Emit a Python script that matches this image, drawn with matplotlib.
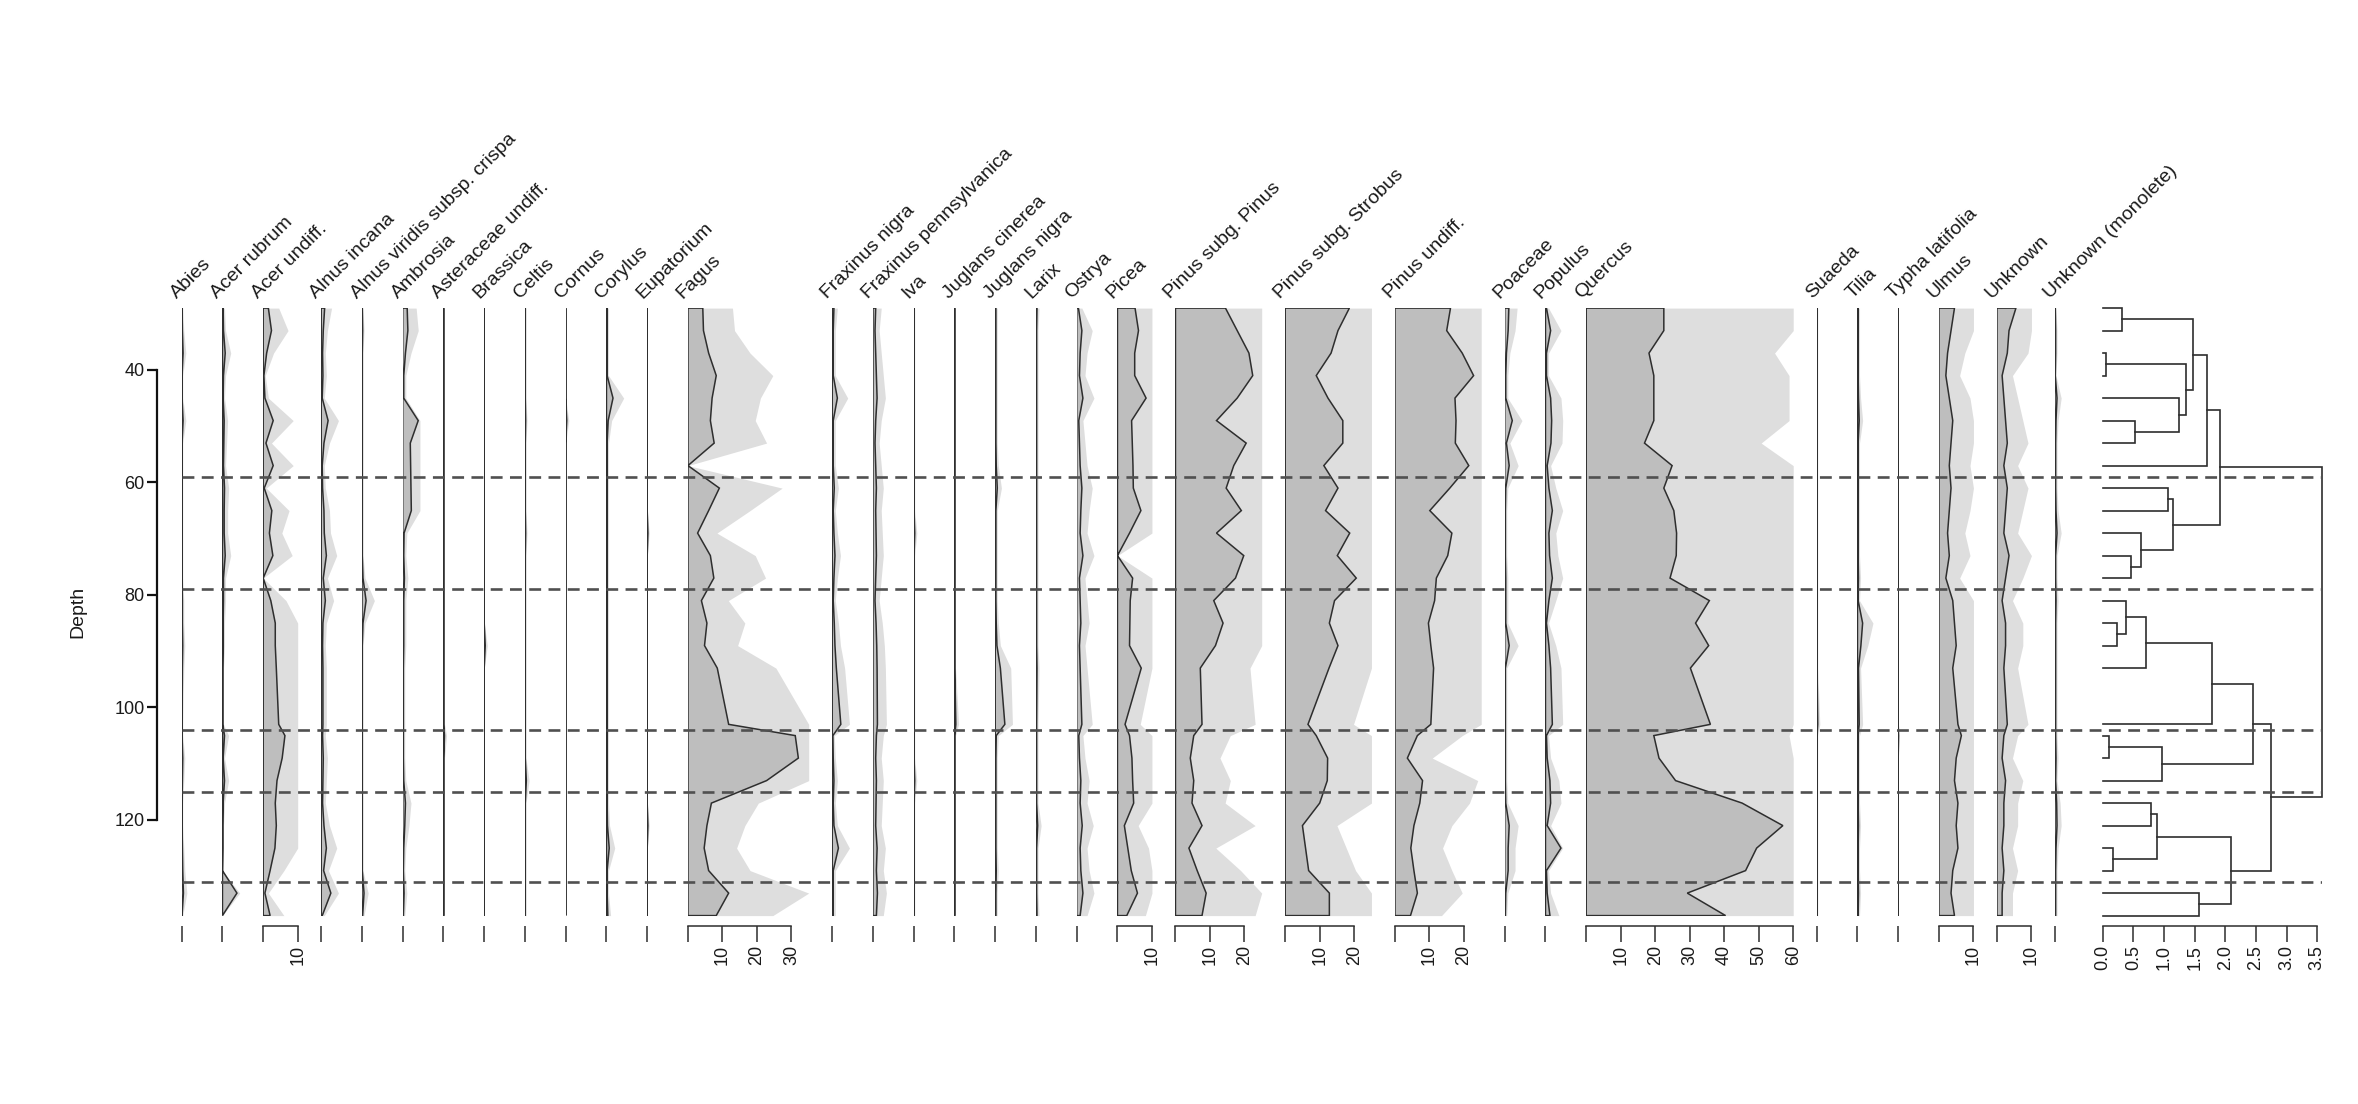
import numpy as np
import matplotlib
matplotlib.use("Agg")
import matplotlib.pyplot as plt
from matplotlib.transforms import offset_copy

plt.rcParams['font.family'] = ['Liberation Sans', 'DejaVu Sans']

# ---------------------------------------------------------------------------
# Data (percent of pollen sum) -- one list per taxon, sample depths below
# ---------------------------------------------------------------------------
depths = [29, 33, 37, 41, 45, 49, 53, 57, 61, 65, 69, 73, 77, 81, 85, 89, 93,
          103, 105, 109, 113, 117, 121, 125, 129, 133, 137]

abies = [0.1, 0.2, 0.4, 0.1, 0.1, 0.4, 0.1, 0.1, 0.1, 0.1, 0.1, 0.1, 0.1, 0.2,
         0.2, 0.3, 0.2, 0.1, 0.1, 0.3, 0.2, 0.1, 0.1, 0.2, 0.3, 0.5, 0.1]
acer_rubrum = [0.2, 0.3, 0.8, 0.3, 0.2, 0.5, 0.4, 0.3, 0.6, 0.5, 0.5, 0.8, 0.3, 0.3,
               0.2, 0.2, 0.1, 0.1, 0.6, 0.2, 0.6, 0.2, 0.1, 0.1, 0.0, 4.2, 0.0]
acer_undiff = [1.5, 2.4, 1.0, 0.2, 0.5, 2.9, 0.8, 2.9, 0.3, 2.5, 1.8, 2.8, 0.0, 2.2,
               3.5, 3.5, 3.8, 4.5, 6.3, 5.5, 4.0, 3.5, 3.8, 3.4, 2.0, 0.5, 2.0]
alnus_incana = [1.0, 0.6, 0.4, 0.5, 0.3, 2.0, 0.8, 0.3, 0.4, 0.8, 0.9, 1.5, 0.6, 1.2,
                0.5, 0.4, 0.5, 0.5, 0.4, 0.6, 0.5, 0.4, 0.8, 1.5, 0.7, 2.8, 0.3]
alnus_viridis = [0.1, 0.2, 0.1, 0.1, 0.1, 0.1, 0.1, 0.1, 0.1, 0.1, 0.1, 0.1, 0.3, 1.2,
                 0.3, 0.1, 0.1, 0.1, 0.1, 0.1, 0.1, 0.1, 0.1, 0.1, 0.1, 0.6, 0.2]
ambrosia = [1.3, 1.5, 0.8, 0.3, 0.3, 4.5, 2.2, 2.3, 2.4, 2.5, 0.4, 0.3, 0.5, 0.3,
            0.3, 0.3, 0.2, 0.2, 0.2, 0.2, 0.3, 0.8, 0.6, 0.3, 0.2, 0.4, 0.2]
asteraceae = [0.1, 0.1, 0.1, 0.1, 0.1, 0.1, 0.1, 0.1, 0.1, 0.1, 0.1, 0.1, 0.1, 0.1,
              0.1, 0.1, 0.1, 0.1, 0.3, 0.1, 0.1, 0.1, 0.1, 0.1, 0.1, 0.1, 0.1]
brassica = [0.0, 0.0, 0.0, 0.0, 0.0, 0.0, 0.0, 0.0, 0.0, 0.0, 0.0, 0.0, 0.0, 0.0,
            0.0, 0.3, 0.0, 0.0, 0.0, 0.0, 0.0, 0.0, 0.0, 0.0, 0.0, 0.0, 0.0]
celtis = [0.1, 0.1, 0.1, 0.1, 0.1, 0.2, 0.1, 0.1, 0.1, 0.1, 0.2, 0.1, 0.1, 0.1,
          0.1, 0.1, 0.1, 0.1, 0.1, 0.1, 0.4, 0.1, 0.1, 0.1, 0.1, 0.1, 0.1]
cornus = [0.0, 0.0, 0.0, 0.0, 0.0, 0.3, 0.0, 0.0, 0.0, 0.0, 0.0, 0.0, 0.0, 0.0,
          0.0, 0.0, 0.0, 0.0, 0.0, 0.0, 0.0, 0.0, 0.0, 0.0, 0.0, 0.0, 0.0]
corylus = [0.2, 0.2, 0.2, 0.2, 1.9, 0.5, 0.2, 0.2, 0.2, 0.2, 0.2, 0.2, 0.2, 0.2,
           0.2, 0.2, 0.2, 0.2, 0.2, 0.2, 0.2, 0.2, 0.3, 0.8, 0.2, 0.2, 0.4]
eupatorium = [0.0, 0.0, 0.0, 0.0, 0.0, 0.0, 0.0, 0.0, 0.0, 0.0, 0.2, 0.0, 0.0, 0.0,
              0.0, 0.0, 0.0, 0.0, 0.0, 0.0, 0.0, 0.0, 0.2, 0.0, 0.0, 0.0, 0.0]
fagus = [4.3, 4.5, 6.0, 8.2, 7.0, 6.5, 7.6, 0.0, 9.1, 6.0, 2.8, 6.5, 7.5, 3.9,
         5.5, 4.8, 8.5, 11.8, 31.1, 32.0, 22.8, 6.8, 5.5, 4.7, 6.0, 11.8, 8.2]
fraxinus_nigra = [0.5, 0.3, 0.3, 0.3, 1.5, 0.3, 0.3, 0.3, 0.6, 0.3, 0.5, 0.8, 0.5, 0.3,
                  0.6, 0.8, 1.2, 2.5, 0.2, 0.3, 0.5, 0.3, 0.5, 1.8, 0.3, 0.3, 0.3]
fraxinus_penn = [0.8, 0.6, 0.8, 1.0, 1.2, 0.8, 0.6, 0.8, 1.0, 0.8, 0.9, 1.0, 0.8, 0.6,
                 0.9, 1.1, 1.2, 1.3, 1.0, 0.8, 1.0, 0.9, 0.8, 1.2, 1.0, 1.3, 1.0]
iva = [0.1, 0.1, 0.1, 0.1, 0.1, 0.1, 0.1, 0.1, 0.1, 0.1, 0.3, 0.1, 0.1, 0.1,
       0.1, 0.1, 0.1, 0.1, 0.1, 0.1, 0.3, 0.1, 0.1, 0.1, 0.1, 0.1, 0.1]
juglans_cinerea = [0.1, 0.1, 0.1, 0.1, 0.1, 0.1, 0.1, 0.1, 0.1, 0.1, 0.1, 0.1, 0.1, 0.1,
                   0.1, 0.1, 0.1, 0.4, 0.1, 0.1, 0.1, 0.1, 0.1, 0.1, 0.1, 0.1, 0.1]
juglans_nigra = [0.2, 0.2, 0.2, 0.2, 0.2, 0.2, 0.2, 0.3, 0.6, 0.2, 0.2, 0.2, 0.2, 0.2,
                 0.3, 0.5, 1.5, 2.8, 0.3, 0.2, 0.2, 0.2, 0.2, 0.2, 0.3, 0.2, 0.2]
larix = [0.3, 0.2, 0.2, 0.2, 0.2, 0.2, 0.2, 0.2, 0.2, 0.2, 0.2, 0.2, 0.2, 0.2,
         0.2, 0.2, 0.3, 0.2, 0.2, 0.2, 0.2, 0.2, 0.5, 0.2, 0.2, 0.2, 0.3]
ostrya = [0.5, 1.5, 1.0, 0.8, 1.8, 0.6, 0.8, 1.0, 1.5, 1.2, 1.0, 1.8, 0.8, 1.0,
          1.2, 0.8, 1.0, 1.5, 0.6, 0.8, 1.2, 1.0, 1.6, 1.0, 1.2, 1.8, 1.0]
picea = [5.1, 6.1, 5.0, 5.0, 8.3, 4.1, 4.3, 4.5, 4.6, 6.8, 3.5, 0.0, 4.4, 3.7,
         3.6, 3.5, 6.9, 2.2, 3.5, 4.2, 4.4, 4.7, 2.0, 3.0, 4.0, 5.8, 2.7]
pinus_pinus = [14.5, 17.9, 21.3, 22.4, 17.9, 11.9, 20.5, 16.9, 14.7, 19.1, 11.9, 19.8,
               17.4, 11.1, 13.8, 11.6, 7.2, 7.7, 5.3, 4.3, 5.3, 4.8, 7.7, 3.9, 6.3, 8.9, 7.7]
pinus_strobus = [18.6, 15.3, 13.3, 9.0, 12.4, 16.7, 16.7, 11.2, 15.3, 11.7, 18.7, 15.1,
                 20.6, 14.3, 12.8, 15.3, 12.7, 6.6, 9.0, 12.3, 12.2, 10.0, 5.0, 5.9, 6.8, 12.8, 12.8]
pinus_undiff = [16.1, 15.0, 19.5, 22.8, 17.4, 17.7, 17.5, 21.4, 15.9, 10.1, 16.5, 15.3,
                12.0, 11.5, 9.7, 10.4, 11.2, 10.4, 6.5, 3.6, 8.0, 7.2, 5.5, 4.6, 5.5, 6.5, 4.5]
poaceae = [1.2, 1.0, 0.5, 0.3, 0.3, 2.2, 0.5, 1.3, 0.3, 0.2, 0.2, 0.2, 0.3, 0.3,
           0.3, 1.3, 0.2, 0.2, 0.2, 0.2, 0.2, 0.3, 1.3, 1.0, 1.0, 0.3, 0.2]
populus = [0.3, 1.5, 0.3, 0.3, 1.5, 1.8, 1.6, 0.5, 1.0, 2.0, 1.0, 1.2, 2.0, 1.0,
           0.3, 1.0, 1.5, 2.0, 0.3, 0.5, 1.3, 1.5, 0.5, 4.5, 0.3, 0.5, 1.3]
quercus = [22.5, 22.5, 18.2, 19.6, 19.6, 19.6, 16.9, 24.9, 22.5, 25.4, 26.2, 26.1,
           24.3, 35.7, 31.7, 35.5, 30.2, 36.0, 19.6, 21.1, 25.9, 45.2, 57.0, 49.4, 46.2, 29.3, 40.4]
suaeda = [0.1, 0.1, 0.1, 0.1, 0.1, 0.1, 0.1, 0.1, 0.1, 0.1, 0.1, 0.1, 0.1, 0.1,
          0.1, 0.1, 0.1, 0.3, 0.1, 0.1, 0.1, 0.1, 0.1, 0.1, 0.1, 0.1, 0.1]
tilia = [0.2, 0.2, 0.2, 0.2, 0.3, 0.5, 0.2, 0.2, 0.2, 0.2, 0.2, 0.2, 0.3, 0.2,
         1.5, 1.0, 0.3, 0.5, 0.2, 0.2, 0.2, 0.2, 0.3, 0.2, 0.2, 0.3, 0.2]
typha = [0.0, 0.0, 0.0, 0.0, 0.0, 0.0, 0.0, 0.0, 0.0, 0.0, 0.0, 0.0, 0.0, 0.0,
         0.0, 0.0, 0.0, 0.0, 0.1, 0.0, 0.0, 0.0, 0.0, 0.0, 0.0, 0.0, 0.0]
ulmus = [4.5, 3.5, 2.5, 2.0, 3.0, 4.0, 3.5, 3.0, 3.5, 3.0, 2.5, 3.0, 2.0, 4.0,
         4.5, 5.0, 4.0, 5.5, 6.5, 5.0, 4.5, 5.5, 5.0, 5.5, 4.0, 3.5, 4.5]
unknown = [5.5, 3.5, 3.0, 1.5, 2.0, 2.5, 3.0, 2.0, 3.0, 2.5, 2.0, 3.5, 2.5, 1.5,
           2.5, 2.5, 2.0, 3.0, 2.0, 1.5, 2.5, 2.0, 2.0, 1.5, 2.0, 1.5, 1.5]
unknown_monolete = [0.1, 0.2, 0.2, 0.1, 0.6, 0.3, 0.2, 0.2, 0.2, 0.3, 0.6, 0.2, 0.2, 0.3,
                    0.2, 0.2, 0.2, 0.2, 0.2, 0.3, 0.2, 0.5, 0.6, 0.3, 0.2, 0.2, 0.2]

taxon_names = ["Abies", "Acer rubrum", "Acer undiff.", "Alnus incana",
               "Alnus viridis subsp. crispa", "Ambrosia", "Asteraceae undiff.",
               "Brassica", "Celtis", "Cornus", "Corylus", "Eupatorium", "Fagus",
               "Fraxinus nigra", "Fraxinus pennsylvanica", "Iva", "Juglans cinerea",
               "Juglans nigra", "Larix", "Ostrya", "Picea", "Pinus subg. Pinus",
               "Pinus subg. Strobus", "Pinus undiff.", "Poaceae", "Populus",
               "Quercus", "Suaeda", "Tilia", "Typha latifolia", "Ulmus", "Unknown",
               "Unknown (monolete)"]
taxon_values = [abies, acer_rubrum, acer_undiff, alnus_incana, alnus_viridis,
                ambrosia, asteraceae, brassica, celtis, cornus, corylus, eupatorium,
                fagus, fraxinus_nigra, fraxinus_penn, iva, juglans_cinerea,
                juglans_nigra, larix, ostrya, picea, pinus_pinus, pinus_strobus,
                pinus_undiff, poaceae, populus, quercus, suaeda, tilia, typha,
                ulmus, unknown, unknown_monolete]

# CONISS-style clustering: merge (a, b) at height h; ids >= 27 are earlier merges
merge_a = [2, 18, 23, 14, 0, 13, 11, 5, 10, 32, 21, 37, 28, 8, 40, 4, 27, 31,
           25, 44, 36, 46, 38, 47, 50, 48]
merge_b = [3, 19, 24, 15, 1, 30, 12, 6, 33, 16, 22, 29, 20, 9, 35, 34, 42, 43,
           26, 7, 17, 41, 45, 39, 49, 51]
merge_h = [0.05, 0.11, 0.17, 0.24, 0.31, 0.375, 0.46, 0.53, 0.62, 0.71, 0.79,
           0.88, 0.96, 1.07, 1.14, 1.25, 1.36, 1.47, 1.57, 1.70, 1.79, 1.92,
           2.09, 2.45, 2.74, 3.57]

zone_bounds = [59, 79, 104, 115, 131]
depth_ticks = [40, 60, 80, 100, 120]
dendro_ticks = [0.0, 0.5, 1.0, 1.5, 2.0, 2.5, 3.0, 3.5]
EXAG = 3

# ---------------------------------------------------------------------------
# Layout (pixels on a 2358 x 1104 canvas)
# ---------------------------------------------------------------------------
W, H = 2358, 1104
DPI = 100
X0 = 181.7          # left edge of first panel
Y_AXIS_X = 157      # depth axis line
PX_PER_PC = 3.45    # pixels per percent
GAP = 23.5          # gap between panels
Y_TOP, Y_BOT = 308.1, 915.6
DENDRO_X0 = 2102.7
DENDRO_PX = 61.3    # pixels per unit of dispersion

DARK = "#bebebe"
LIGHT = "#dedede"
LINE = "#2e2e2e"
TXT = "#1a1a1a"

fig = plt.figure(figsize=(W / DPI, H / DPI), dpi=DPI, facecolor="white")

bot = 1 - Y_BOT / H
hgt = (Y_BOT - Y_TOP) / H
axis_off_pt = 10.5 * 72 / DPI


def style_bottom(ax, ticks, labels):
    for s in ("top", "right", "left"):
        ax.spines[s].set_visible(False)
    sp = ax.spines["bottom"]
    sp.set_position(("outward", axis_off_pt))
    sp.set_bounds(ticks[0], ticks[-1])
    sp.set_color(LINE)
    sp.set_linewidth(1.1)
    ax.set_xticks(ticks)
    ax.set_xticklabels(labels)
    ax.tick_params(axis="x", direction="out", length=11.5, width=1.1,
                   color=LINE, labelsize=13, labelrotation=90, pad=2,
                   labelcolor=TXT)
    ax.set_yticks([])
    ax.patch.set_alpha(0)


# depth axis (own small axes left of the first panel)
axy = fig.add_axes([(Y_AXIS_X - 2) / W, bot, 4 / W, hgt])
axy.set_ylim(depths[-1], depths[0])
axy.set_xlim(0, 1)
axy.set_xticks([])
for s in ("top", "right", "bottom"):
    axy.spines[s].set_visible(False)
axy.spines["left"].set_position(("axes", 0.5))
axy.spines["left"].set_bounds(depth_ticks[0], depth_ticks[-1])
axy.spines["left"].set_color("#111111")
axy.spines["left"].set_linewidth(1.6)
axy.set_yticks(depth_ticks)
axy.tick_params(axis="y", direction="out", length=7, width=1.6, color="#111111",
                labelsize=13, pad=2, labelcolor=TXT)
axy.set_ylabel("Depth", fontsize=14, color=TXT, labelpad=20)

x = X0
for name, vals in zip(taxon_names, taxon_values):
    v = np.asarray(vals, dtype=float)
    d = np.asarray(depths, dtype=float)
    colm = np.floor((v.max() + 5) / 5) * 5
    ax = fig.add_axes([x / W, bot, colm * PX_PER_PC / W, hgt])
    ax.set_xlim(0, colm)
    ax.set_ylim(d[-1], d[0])

    ax.fill_betweenx(d, 0, np.minimum(v * EXAG, colm), color=LIGHT, lw=0, zorder=1)
    xs = np.concatenate([[0], v, [0]])
    ys = np.concatenate([[d[0]], d, [d[-1]]])
    ax.fill(xs, ys, facecolor=DARK, edgecolor=LINE, lw=1.1, zorder=2)

    ticks = np.arange(0, colm + 0.01, 10)
    style_bottom(ax, ticks, ["" if t == 0 else f"{t:g}" for t in ticks])

    tr = offset_copy(ax.transAxes, fig=fig, x=-5, y=9, units="dots")
    ax.text(0, 1, name, transform=tr, rotation=45, rotation_mode="anchor",
            ha="left", va="baseline", fontsize=14, color=TXT)
    x += colm * PX_PER_PC + GAP

# dendrogram
hmax = max(merge_h)
axd = fig.add_axes([DENDRO_X0 / W, bot, hmax * DENDRO_PX / W, hgt])
axd.set_xlim(0, hmax)
axd.set_ylim(depths[-1], depths[0])
n = len(depths)
pos = {i: (0.0, depths[i]) for i in range(n)}
for k, (a, b, h) in enumerate(zip(merge_a, merge_b, merge_h)):
    ha, ya = pos[a]
    hb, yb = pos[b]
    axd.plot([ha, h, h, hb], [ya, ya, yb, yb], color=LINE, lw=1.2,
             solid_joinstyle="miter", clip_on=False)
    pos[n + k] = (h, (ya + yb) / 2)
style_bottom(axd, dendro_ticks, [f"{t:.1f}" for t in dendro_ticks])

# zone boundaries across the whole diagram
x_end = DENDRO_X0 + hmax * DENDRO_PX
axz = fig.add_axes([X0 / W, bot, (x_end - X0) / W, hgt])
axz.set_ylim(depths[-1], depths[0])
axz.set_xlim(0, 1)
axz.hlines(zone_bounds, 0, 1, colors="#505050", lw=1.9,
           linestyles=[(0, (4.5, 2.8))])
axz.axis("off")

fig.savefig("out.png", dpi=DPI, facecolor="white")
